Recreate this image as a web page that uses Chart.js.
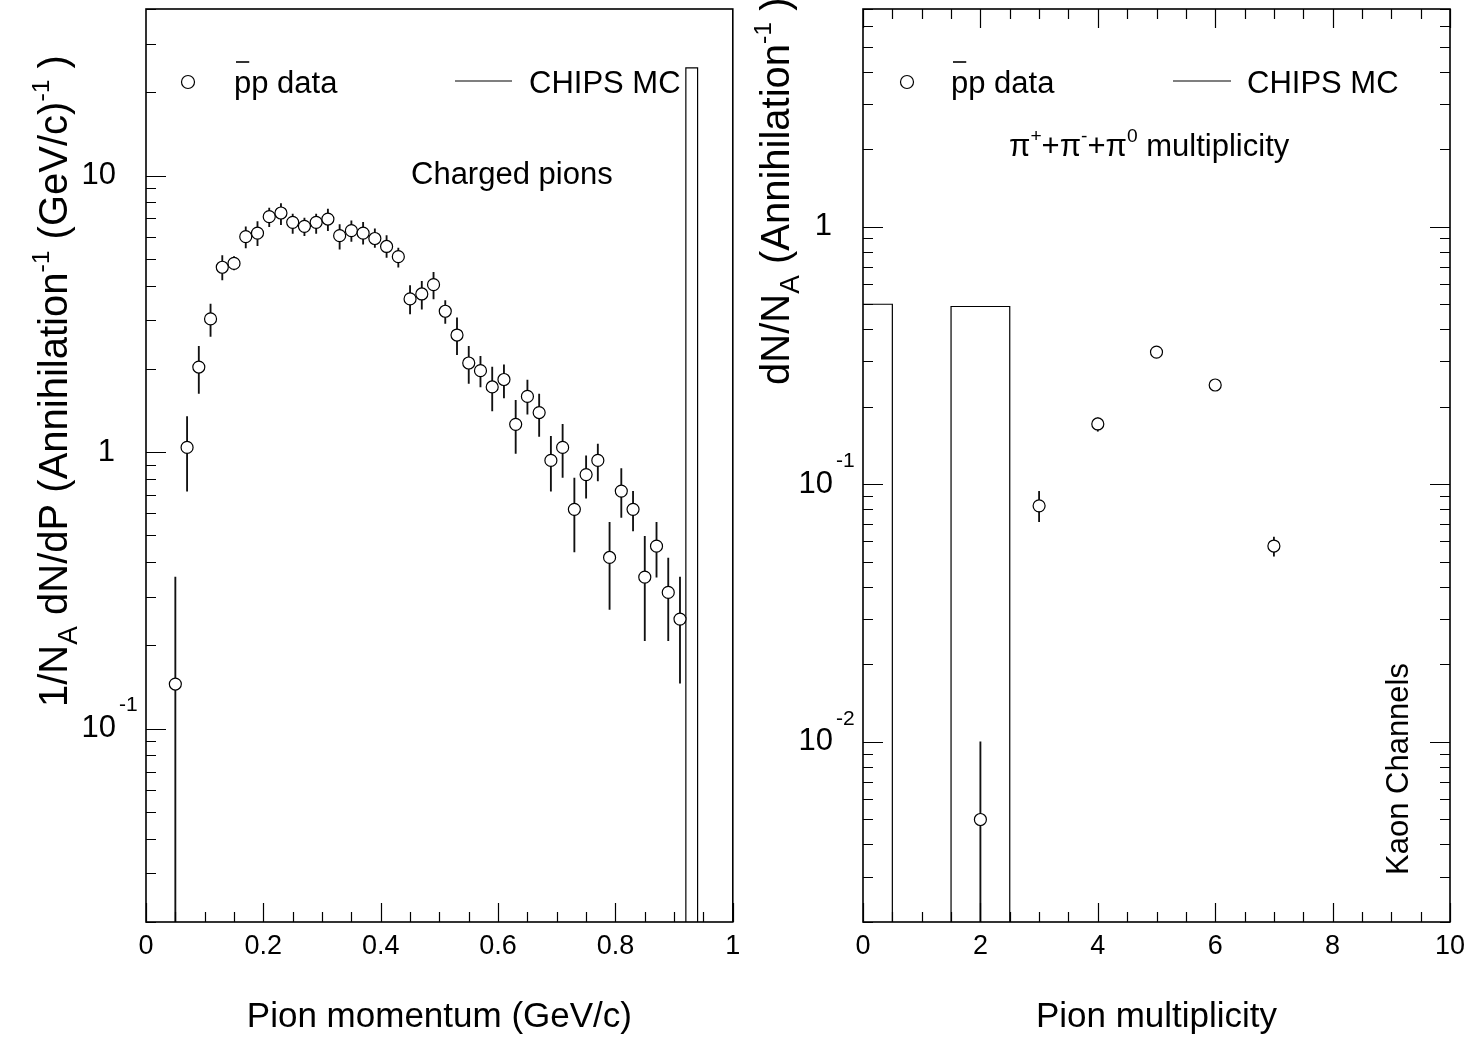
<!DOCTYPE html>
<html>
<head>
<meta charset="utf-8">
<script src="https://cdn.jsdelivr.net/npm/chart.js"></script>
<style>
html, body { margin: 0; padding: 0; background: #fff; }
body { width: 1470px; height: 1037px; position: relative; overflow: hidden; }
canvas { position: absolute; top: 0; }
#momChart { left: 0; }
#multChart { left: 700px; }
</style>
</head>
<body>
<canvas id="momChart" width="740" height="1037"></canvas>
<canvas id="multChart" width="770" height="1037"></canvas>
<script>
// ---- left panel: charged pion momentum ----
const momX = [0.05, 0.07, 0.09, 0.11, 0.13, 0.15, 0.17, 0.19, 0.21, 0.23, 0.25, 0.27, 0.29, 0.31, 0.33,
  0.35, 0.37, 0.39, 0.41, 0.43, 0.45, 0.47, 0.49, 0.51, 0.53, 0.55, 0.57, 0.59, 0.61, 0.63, 0.65,
  0.67, 0.69, 0.71, 0.73, 0.75, 0.77, 0.79, 0.81, 0.83, 0.85, 0.87, 0.89, 0.91];
const momY = [0.145, 1.04, 2.03, 3.03, 4.66, 4.81, 6.01, 6.19, 7.10, 7.32, 6.77, 6.55, 6.77, 6.96, 6.06,
  6.32, 6.19, 5.92, 5.54, 5.09, 3.58, 3.73, 4.03, 3.23, 2.65, 2.10, 1.97, 1.72, 1.83, 1.26, 1.59,
  1.39, 0.933, 1.04, 0.621, 0.829, 0.933, 0.416, 0.723, 0.621, 0.353, 0.457, 0.311, 0.249];
const momHi = [0.353, 1.345, 2.41, 3.43, 5.13, 5.09, 6.53, 6.81, 7.63, 7.92, 7.25, 7.02, 7.25, 7.56, 6.64,
  6.86, 6.77, 6.41, 6.06, 5.47, 4.00, 4.14, 4.47, 3.53, 3.06, 2.41, 2.22, 2.03, 2.07, 1.54, 1.82,
  1.62, 1.14, 1.26, 0.806, 0.97, 1.07, 0.557, 0.871, 0.721, 0.496, 0.557, 0.414, 0.353];
const momLo = [0.001, 0.723, 1.63, 2.62, 4.19, 4.56, 5.47, 5.58, 6.53, 6.64, 6.17, 6.06, 6.17, 6.32, 5.42,
  5.78, 5.65, 5.50, 5.06, 4.66, 3.16, 3.29, 3.58, 2.92, 2.25, 1.77, 1.72, 1.41, 1.57, 0.99, 1.37,
  1.14, 0.723, 0.81, 0.436, 0.682, 0.786, 0.270, 0.580, 0.519, 0.208, 0.353, 0.208, 0.146];
const mcMomEdges = [0.92, 0.94];
const mcMomVals = [24.5];
const momXTicks = [0, 0.2, 0.4, 0.6, 0.8, 1];
const momYTicks = [0.1, 1, 10];

// ---- right panel: pion multiplicity ----
const multX = [2, 3, 4, 5, 6, 7];
const multY = [0.0050, 0.0825, 0.1715, 0.326, 0.243, 0.0576];
const multHi = [0.0100, 0.0939, 0.181, 0.333, 0.248, 0.0624];
const multLo = [0.0001, 0.0716, 0.1607, 0.319, 0.238, 0.0526];
const mcMultEdges = [-0.5, 0.5, 1.5, 2.5];
const mcMultVals = [0.50, 0, 0.49];
const multXTicks = [0, 2, 4, 6, 8, 10];
const multYTicks = [0.01, 0.1, 1];

const FONT = '"Liberation Sans", Arial, Helvetica, sans-serif';
Chart.defaults.font.family = FONT;
Chart.defaults.color = '#000';

function histPoints(edges, vals, floor) {
  const pts = [{ x: edges[0], y: floor }];
  vals.forEach((v, i) => pts.push({ x: edges[i], y: v > 0 ? v : floor }));
  pts.push({ x: edges[edges.length - 1], y: floor });
  return pts;
}

// text with sub/superscripts, drawn from (x,y) along the baseline
function drawRich(ctx, segs, x, y, size, rot) {
  ctx.save();
  ctx.translate(x, y);
  if (rot) ctx.rotate(rot);
  ctx.textAlign = 'left';
  ctx.textBaseline = 'alphabetic';
  ctx.fillStyle = '#000';
  let cx = 0;
  segs.forEach(s => {
    let fs = size, dy = 0;
    if (s.sup) { fs = size * 0.62; dy = -size * 0.45; }
    if (s.sub) { fs = size * 0.7; dy = size * 0.24; }
    ctx.font = fs + 'px ' + FONT;
    ctx.fillText(s.t, cx, dy);
    cx += ctx.measureText(s.t).width;
  });
  ctx.restore();
  return cx;
}

function drawPbarP(ctx, x, y, size) {
  ctx.font = size + 'px ' + FONT;
  ctx.textAlign = 'left';
  ctx.textBaseline = 'alphabetic';
  ctx.fillText('pp data', x, y);
  const pw = ctx.measureText('p').width;
  ctx.beginPath();
  ctx.moveTo(x + 2, y - 30.5);
  ctx.lineTo(x + pw - 2, y - 30.5);
  ctx.lineWidth = 1.6;
  ctx.stroke();
}

// ROOT-like frame with inward ticks and power-of-ten labels
const rootFrame = {
  id: 'rootFrame',
  afterDatasetsDraw(chart, args, o) {
    const { ctx, chartArea: a } = chart;
    const xs = chart.scales.x, ys = chart.scales.y;
    ctx.save();
    ctx.strokeStyle = '#000';
    ctx.lineWidth = 1.2;
    ctx.beginPath();
    const n = Math.round((xs.max - xs.min) / o.xMinorStep);
    for (let i = 0; i <= n; i++) {
      const v = xs.min + i * o.xMinorStep;
      const major = o.xMajor.some(m => Math.abs(m - v) < 1e-9);
      const len = major ? 19 : 10;
      const px = Math.round(xs.getPixelForValue(v)) + 0.5;
      ctx.moveTo(px, a.bottom); ctx.lineTo(px, a.bottom - len);
      if (o.mirror) { ctx.moveTo(px, a.top); ctx.lineTo(px, a.top + len); }
    }
    const d0 = Math.floor(Math.log10(ys.min)), d1 = Math.ceil(Math.log10(ys.max));
    for (let d = d0; d <= d1; d++) {
      for (let k = 1; k <= 9; k++) {
        const v = k * Math.pow(10, d);
        if (v < ys.min * 0.999 || v > ys.max * 1.001) continue;
        const len = k === 1 ? 20 : 10;
        const py = Math.round(ys.getPixelForValue(v)) + 0.5;
        ctx.moveTo(a.left, py); ctx.lineTo(a.left + len, py);
        if (o.mirror) { ctx.moveTo(a.right, py); ctx.lineTo(a.right - len, py); }
      }
    }
    ctx.stroke();
    ctx.lineWidth = 1.6;
    ctx.strokeRect(a.left, a.top, a.right - a.left, a.bottom - a.top);

    ctx.fillStyle = '#000';
    ctx.textBaseline = 'middle';
    o.yMajor.forEach(v => {
      const py = ys.getPixelForValue(v);
      const e = Math.round(Math.log10(v));
      ctx.font = '31px ' + FONT;
      ctx.textAlign = 'right';
      if (e === 0) {
        ctx.fillText('1', a.left - 31, py);
      } else {
        ctx.fillText('10', a.left - 30, py);
        if (e !== 1) {
          ctx.font = '21px ' + FONT;
          ctx.textAlign = 'left';
          ctx.fillText(String(e), a.left - 27, py - 23);
        }
      }
    });
    ctx.restore();
  }
};

const momAnno = {
  id: 'momAnno',
  afterDraw(chart) {
    const ctx = chart.ctx;
    ctx.save();
    ctx.fillStyle = '#000';
    ctx.strokeStyle = '#000';
    drawRich(ctx, [{ t: '1/N' }, { t: 'A', sub: 1 }, { t: ' dN/dP (Annihilation' }, { t: '-1', sup: 1 },
      { t: ' (GeV/c)' }, { t: '-1', sup: 1 }, { t: ' )' }], 67, 707, 40, -Math.PI / 2);
    // legend
    ctx.beginPath();
    ctx.arc(188, 82, 6.5, 0, Math.PI * 2);
    ctx.lineWidth = 1.2;
    ctx.stroke();
    drawPbarP(ctx, 234, 92.5, 31);
    ctx.beginPath();
    ctx.moveTo(455, 81); ctx.lineTo(512, 81);
    ctx.lineWidth = 1.2;
    ctx.stroke();
    ctx.font = '31px ' + FONT;
    ctx.fillText('CHIPS MC', 529, 92.5);
    ctx.fillText('Charged pions', 411, 184);
    ctx.restore();
  }
};

const OFF = 700;
const multAnno = {
  id: 'multAnno',
  afterDraw(chart) {
    const ctx = chart.ctx;
    ctx.save();
    ctx.fillStyle = '#000';
    ctx.strokeStyle = '#000';
    drawRich(ctx, [{ t: 'dN/N' }, { t: 'A', sub: 1 }, { t: ' (Annihilation' }, { t: '-1', sup: 1 }, { t: ' )' }],
      789 - OFF, 385, 40, -Math.PI / 2);
    ctx.beginPath();
    ctx.arc(907 - OFF, 82, 6.5, 0, Math.PI * 2);
    ctx.lineWidth = 1.2;
    ctx.stroke();
    drawPbarP(ctx, 951 - OFF, 92.5, 31);
    ctx.beginPath();
    ctx.moveTo(1173 - OFF, 81); ctx.lineTo(1231 - OFF, 81);
    ctx.lineWidth = 1.2;
    ctx.stroke();
    ctx.font = '31px ' + FONT;
    ctx.fillText('CHIPS MC', 1247 - OFF, 92.5);
    drawRich(ctx, [{ t: 'π' }, { t: '+', sup: 1 }, { t: '+π' }, { t: '-', sup: 1 }, { t: '+π' }, { t: '0', sup: 1 },
      { t: ' multiplicity' }], 1009 - OFF, 156, 31);
    drawRich(ctx, [{ t: 'Kaon Channels' }], 1408 - OFF, 875, 31, -Math.PI / 2);
    ctx.restore();
  }
};

function fmtTick(v) { return String(Number(v.toFixed(2))); }

function makeChart(id, cfg) {
  const errs = cfg.xs.map((x, i) => ({ x: x, y: [cfg.lo[i], cfg.hi[i]] }));
  return new Chart(document.getElementById(id), {
    type: 'scatter',
    data: {
      datasets: [
        {
          type: 'scatter', label: 'p\u0304p data',
          data: cfg.xs.map((x, i) => ({ x: x, y: cfg.ys[i] })),
          pointRadius: 6, pointBackgroundColor: '#fff', pointBorderColor: '#000',
          pointBorderWidth: 1.2, order: 0, clip: 0
        },
        {
          type: 'bar', label: 'errors', data: errs, barThickness: 1.2, grouped: false,
          backgroundColor: '#111', borderWidth: 0, order: 2, clip: 0
        },
        {
          type: 'line', label: 'CHIPS MC', data: histPoints(cfg.edges, cfg.mc, 1e-6),
          stepped: 'before', borderColor: '#000', borderWidth: 1.2, pointRadius: 0,
          fill: false, tension: 0, order: 1, clip: 0
        }
      ]
    },
    options: {
      responsive: false,
      animation: false,
      events: [],
      layout: { padding: { left: 0, right: cfg.padRight, top: 9, bottom: 0 } },
      plugins: {
        legend: { display: false },
        tooltip: { enabled: false },
        rootFrame: { xMinorStep: cfg.minor, xMajor: cfg.xTicks, yMajor: cfg.yTicks, mirror: cfg.mirror }
      },
      scales: {
        x: {
          type: 'linear', min: cfg.xTicks[0], max: cfg.xTicks[cfg.xTicks.length - 1], offset: false,
          grid: { display: false, drawTicks: false }, border: { display: false },
          afterBuildTicks: s => { s.ticks = cfg.xTicks.map(v => ({ value: v })); },
          ticks: { color: '#000', font: { size: 27 }, padding: 8, maxRotation: 0, autoSkip: false, callback: v => fmtTick(v) },
          title: { display: true, text: cfg.xTitle, color: '#000', font: { size: 35, lineHeight: 1 }, padding: { top: 0, bottom: 2.5 } },
          afterFit: s => { s.height = 115; s.paddingLeft = 0; s.paddingRight = 0; }
        },
        y: {
          type: 'logarithmic', min: cfg.yMin, max: cfg.yMax,
          grid: { display: false, drawTicks: false }, border: { display: false },
          ticks: { display: false },
          afterFit: s => { s.width = cfg.yWidth; s.paddingTop = 0; s.paddingBottom = 0; }
        }
      }
    },
    plugins: [rootFrame, cfg.anno]
  });
}

makeChart('momChart', {
  xs: momX, ys: momY, hi: momHi, lo: momLo, edges: mcMomEdges, mc: mcMomVals,
  xTicks: momXTicks, yTicks: momYTicks, minor: 0.05, mirror: false,
  yMin: 0.02, yMax: 40, yWidth: 146, padRight: 740 - 733,
  xTitle: 'Pion momentum (GeV/c)', anno: momAnno
});

makeChart('multChart', {
  xs: multX, ys: multY, hi: multHi, lo: multLo, edges: mcMultEdges, mc: mcMultVals,
  xTicks: multXTicks, yTicks: multYTicks, minor: 0.5, mirror: true,
  yMin: 0.002, yMax: 7, yWidth: 863 - OFF, padRight: 770 - (1450 - OFF),
  xTitle: 'Pion multiplicity', anno: multAnno
});
</script>
</body>
</html>
